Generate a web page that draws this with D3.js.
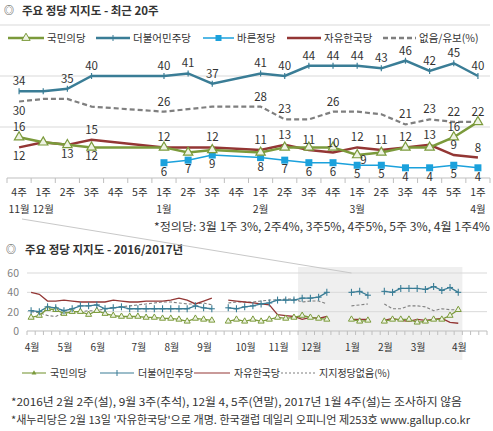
<!DOCTYPE html>
<html>
<head>
<meta charset="utf-8">
<script src="https://cdn.jsdelivr.net/npm/d3@7"></script>
<style>
  body { margin: 0; background: #fff; }
  svg { display: block; font-family: "Noto Sans CJK KR", "Noto Sans", sans-serif; }
</style>
</head>
<body>
<div id="chart"></div>
<script>
var svgWidth = 493;
var svgHeight = 431;

// ---- recent 20 weeks (top chart) ----
var weekLabels = ["4주","1주","2주","3주","4주","5주","1주","2주","3주","4주","1주","2주","3주","4주","1주","2주","3주","4주","5주","1주"];
var monthLabels = ["11월","12월","","","","","1월","","","","2월","","","","3월","","","","","4월"];

var minjuTop   = [34,34,35,40,null,null,40,41,37,null,41,40,44,44,44,43,46,42,45,40];
var peopleTop  = [16,14,13,12,null,null,12,10,11,null,10,12,12,12,9,10,12,12,16,22];
var bareunTop  = [null,null,null,null,null,null,6,7,9,null,8,7,6,6,5,5,4,4,5,4];
var libertyTop = [12,14,13,15,null,null,12,12,12,null,11,13,11,10,12,11,12,13,9,8];
var noneTop    = [30,31,31,28,null,null,26,27,28,null,28,23,23,26,26,25,21,23,22,22];

// where the value label sits: t above, b below, r right, "" none
var minjuLbl   = ["t","","t","t","","","t","t","t","","t","t","t","t","t","t","t","t","t","t"];
var peopleLbl  = ["t","","b","b","","","t","","","","","","","","r","","","","t",""];
var bareunLbl  = ["","","","","","","b","b","b","","b","b","b","b","b","b","b","b","b","b"];
var libertyLbl = ["b","","","t","","","","","t","","t","t","t","t","t","t","t","t","t","t"];
var noneLbl    = ["b","","","","","","t","","","","t","t","","t","","","t","t","t","t"];

// ---- 2016/2017 weekly (bottom chart), week 0 = 2016년 4월 1주 ----
var peopleAll  = [14,16,23,22,18,20,20,17,21,18,16,15,15,15,14,14,13,13,12,10,13,12,11,null,10,12,10,12,10,12,14,13,14,
                  16,14,13,12,null,null,12,10,11,null,10,12,12,12,9,10,12,12,16,22];
var minjuAll   = [21,20,25,24,21,23,26,26,27,23,24,25,23,23,23,23,23,23,23,23,26,24,23,null,24,23,25,26,28,29,32,32,32,
                  34,34,35,40,null,null,40,41,37,null,41,40,44,44,44,43,46,42,45,40];
var libertyAll = [40,38,31,31,32,31,30,30,30,30,32,31,30,30,31,31,31,32,34,32,28,31,34,null,32,31,30,29,28,27,17,16,15,
                  12,14,13,15,null,null,12,12,12,null,11,13,11,10,12,11,12,13,9,8];
var noneAll    = [20,19,16,15,19,20,20,21,21,23,24,25,26,27,28,29,30,30,29,28,28,29,27,null,29,30,30,30,31,32,32,33,33,
                  30,31,31,28,null,null,26,27,28,null,28,23,23,26,26,25,21,23,22,22];

var monthTickWeeks = [0,4,8,13,17,21,26,30,34,39,43,47,52];
var monthTickNames = ["4월","5월","6월","7월","8월","9월","10월","11월","12월","1월","2월","3월","4월"];

var colPeople = "#7b9a3b";
var colMinju = "#3a7d96";
var colBareun = "#1ba1dc";
var colLiberty = "#933634";
var colNone = "#7f7f7f";
var textCol = "#333";

var svg = d3.select("#chart")
  .append("svg")
  .attr("width", svgWidth)
  .attr("height", svgHeight);

// ================= top chart =================
var topG = svg.append("g");

topG.append("text")
  .attr("x", 4).attr("y", 14)
  .attr("font-size", "10px").attr("fill", textCol)
  .text("◎");
topG.append("text")
  .attr("x", 22).attr("y", 15)
  .attr("font-size", "11.5px").attr("font-weight", 700).attr("fill", textCol)
  .text("주요 정당 지지도 - 최근 20주");

var xTop = d3.scaleBand().domain(d3.range(20)).range([7, 490]);
var cx = i => xTop(i) + xTop.bandwidth() / 2;
var yTop = d3.scaleLinear().domain([0, 60]).range([178, 25]);

topG.selectAll(".gridT")
  .data([20, 40, 60])
  .enter()
  .append("line")
  .attr("x1", 0).attr("x2", 490)
  .attr("y1", d => yTop(d)).attr("y2", d => yTop(d))
  .attr("stroke", "#d9d9d9");

topG.append("line")
  .attr("x1", 7).attr("x2", 490)
  .attr("y1", yTop(0)).attr("y2", yTop(0))
  .attr("stroke", "#bfbfbf");

topG.selectAll(".tickT")
  .data(d3.range(21))
  .enter()
  .append("line")
  .attr("x1", d => 7 + d * xTop.bandwidth()).attr("x2", d => 7 + d * xTop.bandwidth())
  .attr("y1", yTop(0)).attr("y2", yTop(0) + 5)
  .attr("stroke", "#bfbfbf");

topG.selectAll(".weekT")
  .data(weekLabels)
  .enter()
  .append("text")
  .attr("x", (d, i) => cx(i)).attr("y", 196)
  .attr("text-anchor", "middle").attr("font-size", "10.5px").attr("fill", textCol)
  .text(d => d);

topG.selectAll(".monthT")
  .data(monthLabels)
  .enter()
  .append("text")
  .attr("x", (d, i) => cx(i)).attr("y", 213)
  .attr("text-anchor", "middle").attr("font-size", "10.5px").attr("fill", textCol)
  .text(d => d);

topG.append("text")
  .attr("x", 490).attr("y", 231)
  .attr("text-anchor", "end").attr("font-size", "11.5px").attr("fill", textCol)
  .attr("textLength", 336).attr("lengthAdjust", "spacingAndGlyphs")
  .text("*정의당: 3월 1주 3%, 2주4%, 3주5%, 4주5%, 5주 3%, 4월 1주4%");

function pts(values) {
  return values.map((v, i) => ({ i: i, v: v })).filter(d => d.v != null);
}

var lineTop = d3.line().x(d => cx(d.i)).y(d => yTop(d.v));

function drawTop(values, color, width, dash) {
  topG.append("path")
    .datum(pts(values))
    .attr("d", lineTop)
    .attr("fill", "none")
    .attr("stroke", color)
    .attr("stroke-width", width)
    .attr("stroke-dasharray", dash || null);
}

drawTop(noneTop, colNone, 2.2, "5,3");
drawTop(bareunTop, colBareun, 1.5);
drawTop(libertyTop, colLiberty, 2.5);
drawTop(peopleTop, colPeople, 2.5);
drawTop(minjuTop, colMinju, 2.5);

topG.selectAll(".sqT")
  .data(pts(bareunTop))
  .enter()
  .append("rect")
  .attr("x", d => cx(d.i) - 3.5).attr("y", d => yTop(d.v) - 3.5)
  .attr("width", 7).attr("height", 7)
  .attr("fill", colBareun);

topG.selectAll(".triT")
  .data(pts(peopleTop))
  .enter()
  .append("path")
  .attr("d", d3.symbol(d3.symbolTriangle, 38))
  .attr("transform", d => `translate(${cx(d.i)},${yTop(d.v)})`)
  .attr("fill", "#eef3e4").attr("stroke", colPeople).attr("stroke-width", 1.2);

topG.selectAll(".plusT")
  .data(pts(minjuTop))
  .enter()
  .append("line")
  .attr("x1", d => cx(d.i)).attr("x2", d => cx(d.i))
  .attr("y1", d => yTop(d.v) - 3).attr("y2", d => yTop(d.v) + 3)
  .attr("stroke", colMinju).attr("stroke-width", 1.2);

function labelTop(values, where) {
  var data = values.map((v, i) => ({ i: i, v: v, w: where[i] })).filter(d => d.v != null && d.w);
  topG.selectAll(null)
    .data(data)
    .enter()
    .append("text")
    .attr("x", d => d.w === "r" ? cx(d.i) + 3 : cx(d.i))
    .attr("y", d => d.w === "t" ? yTop(d.v) - 6 : (d.w === "b" ? yTop(d.v) + 13 : yTop(d.v) + 9))
    .attr("text-anchor", d => d.w === "r" ? "start" : "middle")
    .attr("font-size", "11.5px").attr("fill", textCol)
    .text(d => d.v);
}

labelTop(minjuTop, minjuLbl);
labelTop(noneTop, noneLbl);
labelTop(peopleTop, peopleLbl);
labelTop(libertyTop, libertyLbl);
labelTop(bareunTop, bareunLbl);

// top legend
var legTop = [
  { name: "국민의당", color: colPeople, x: 8, w: 36, mark: "tri" },
  { name: "더불어민주당", color: colMinju, x: 96, w: 34, mark: "plus" },
  { name: "바른정당", color: colBareun, x: 203, w: 31, mark: "sq" },
  { name: "자유한국당", color: colLiberty, x: 287, w: 34, mark: "" },
  { name: "없음/유보(%)", color: colNone, x: 383, w: 33, mark: "dash" }
];
var legTopG = topG.selectAll(".legT").data(legTop).enter().append("g");
legTopG.append("line")
  .attr("x1", d => d.x).attr("x2", d => d.x + d.w)
  .attr("y1", 38).attr("y2", 38)
  .attr("stroke", d => d.color)
  .attr("stroke-width", d => d.mark === "sq" ? 1.5 : 2.5)
  .attr("stroke-dasharray", d => d.mark === "dash" ? "5,3" : null);
legTopG.filter(d => d.mark === "tri").append("path")
  .attr("d", d3.symbol(d3.symbolTriangle, 30))
  .attr("transform", d => `translate(${d.x + d.w / 2},38)`)
  .attr("fill", "#eef3e4").attr("stroke", d => d.color);
legTopG.filter(d => d.mark === "sq").append("rect")
  .attr("x", d => d.x + d.w / 2 - 3).attr("y", 35).attr("width", 6).attr("height", 6)
  .attr("fill", d => d.color);
legTopG.filter(d => d.mark === "plus").append("line")
  .attr("x1", d => d.x + d.w / 2).attr("x2", d => d.x + d.w / 2)
  .attr("y1", 35).attr("y2", 41)
  .attr("stroke", d => d.color);
legTopG.append("text")
  .attr("x", d => d.x + d.w + 3).attr("y", 42)
  .attr("font-size", "10.5px").attr("fill", textCol)
  .text(d => d.name);

// ================= bottom chart =================
var botG = svg.append("g");

var xBot = d3.scaleLinear().domain([-0.5, 55.5]).range([27, 487]);
var yBot = d3.scaleLinear().domain([0, 60]).range([331, 273]);

botG.append("rect")
  .attr("x", xBot(32.5)).attr("y", 267)
  .attr("width", xBot(52.5) - xBot(32.5)).attr("height", 93)
  .attr("fill", "#efefef");

// callout line linking the two charts
svg.append("line")
  .attr("x1", 22).attr("y1", 219)
  .attr("x2", xBot(39)).attr("y2", 273)
  .attr("stroke", "#c8c8c8");

botG.append("text")
  .attr("x", 6).attr("y", 253)
  .attr("font-size", "10px").attr("fill", textCol)
  .text("◎");
botG.append("text")
  .attr("x", 25).attr("y", 254)
  .attr("font-size", "11.5px").attr("font-weight", 700).attr("fill", textCol)
  .text("주요 정당 지지도 - 2016/2017년");

botG.selectAll(".gridB")
  .data([20, 40, 60])
  .enter()
  .append("line")
  .attr("x1", 27).attr("x2", 487)
  .attr("y1", d => yBot(d)).attr("y2", d => yBot(d))
  .attr("stroke", "#d9d9d9");

botG.append("line")
  .attr("x1", 27).attr("x2", 487)
  .attr("y1", yBot(0)).attr("y2", yBot(0))
  .attr("stroke", "#bfbfbf");

botG.selectAll(".tickB")
  .data(d3.range(57).map(k => k - 0.5))
  .enter()
  .append("line")
  .attr("x1", d => xBot(d)).attr("x2", d => xBot(d))
  .attr("y1", yBot(0)).attr("y2", yBot(0) + 4)
  .attr("stroke", "#bfbfbf");

botG.selectAll(".yLab")
  .data([0, 20, 40, 60])
  .enter()
  .append("text")
  .attr("x", 19).attr("y", d => yBot(d) + 4)
  .attr("text-anchor", "end").attr("font-size", "10.5px").attr("fill", "#7f7f7f")
  .text(d => d);

botG.selectAll(".monthB")
  .data(monthTickNames)
  .enter()
  .append("text")
  .attr("x", (d, i) => xBot(monthTickWeeks[i]) + 1).attr("y", 351)
  .attr("text-anchor", "middle").attr("font-size", "10px").attr("fill", textCol)
  .text(d => d);

var lineBot = d3.line()
  .defined(d => d != null)
  .x((d, i) => xBot(i))
  .y(d => yBot(d));

function drawBot(values, color, width, dash) {
  botG.append("path")
    .datum(values)
    .attr("d", lineBot)
    .attr("fill", "none")
    .attr("stroke", color)
    .attr("stroke-width", width)
    .attr("stroke-dasharray", dash || null);
}

drawBot(noneAll, colNone, 1.1, "3,2");
drawBot(libertyAll, colLiberty, 1.3);
drawBot(peopleAll, colPeople, 1.3);
drawBot(minjuAll, colMinju, 1.3);

botG.selectAll(".triB")
  .data(pts(peopleAll))
  .enter()
  .append("path")
  .attr("d", d3.symbol(d3.symbolTriangle, 16))
  .attr("transform", d => `translate(${xBot(d.i)},${yBot(d.v)})`)
  .attr("fill", "#eef3e4").attr("stroke", colPeople).attr("stroke-width", 1);

var plusB = botG.selectAll(".plusB")
  .data(pts(minjuAll))
  .enter()
  .append("g")
  .attr("transform", d => `translate(${xBot(d.i)},${yBot(d.v)})`);
plusB.append("line").attr("x1", -3).attr("x2", 3).attr("stroke", colMinju).attr("stroke-width", 1.1);
plusB.append("line").attr("y1", -3.5).attr("y2", 3.5).attr("stroke", colMinju).attr("stroke-width", 1.1);

// bottom legend
var legBot = [
  { name: "국민의당", color: colPeople, x: 22, w: 24, mark: "tri" },
  { name: "더불어민주당", color: colMinju, x: 100, w: 34, mark: "plus" },
  { name: "자유한국당", color: colLiberty, x: 194, w: 36, mark: "" },
  { name: "지지정당없음(%)", color: colNone, x: 281, w: 34, mark: "dash" }
];
var legBotG = botG.selectAll(".legB").data(legBot).enter().append("g");
legBotG.append("line")
  .attr("x1", d => d.x).attr("x2", d => d.x + d.w)
  .attr("y1", 373).attr("y2", 373)
  .attr("stroke", d => d.color).attr("stroke-width", 1.1)
  .attr("stroke-dasharray", d => d.mark === "dash" ? "2,2" : null);
legBotG.filter(d => d.mark === "tri").append("path")
  .attr("d", d3.symbol(d3.symbolTriangle, 10))
  .attr("transform", d => `translate(${d.x + d.w / 2},373)`)
  .attr("fill", d => d.color);
legBotG.filter(d => d.mark === "plus").append("line")
  .attr("x1", d => d.x + d.w / 2).attr("x2", d => d.x + d.w / 2)
  .attr("y1", 370).attr("y2", 376)
  .attr("stroke", d => d.color);
legBotG.append("text")
  .attr("x", d => d.x + d.w + 4).attr("y", 377)
  .attr("font-size", "10px").attr("fill", textCol)
  .text(d => d.name);

svg.append("text")
  .attr("x", 11).attr("y", 406)
  .attr("font-size", "11px").attr("fill", textCol)
  .attr("textLength", 451).attr("lengthAdjust", "spacingAndGlyphs")
  .text("*2016년 2월 2주(설), 9월 3주(추석), 12월 4, 5주(연말), 2017년 1월 4주(설)는 조사하지 않음");
svg.append("text")
  .attr("x", 11).attr("y", 424)
  .attr("font-size", "11px").attr("fill", textCol)
  .attr("textLength", 459).attr("lengthAdjust", "spacingAndGlyphs")
  .text("*새누리당은 2월 13일 '자유한국당'으로 개명. 한국갤럽 데일리 오피니언 제253호 www.gallup.co.kr");
</script>
</body>
</html>
